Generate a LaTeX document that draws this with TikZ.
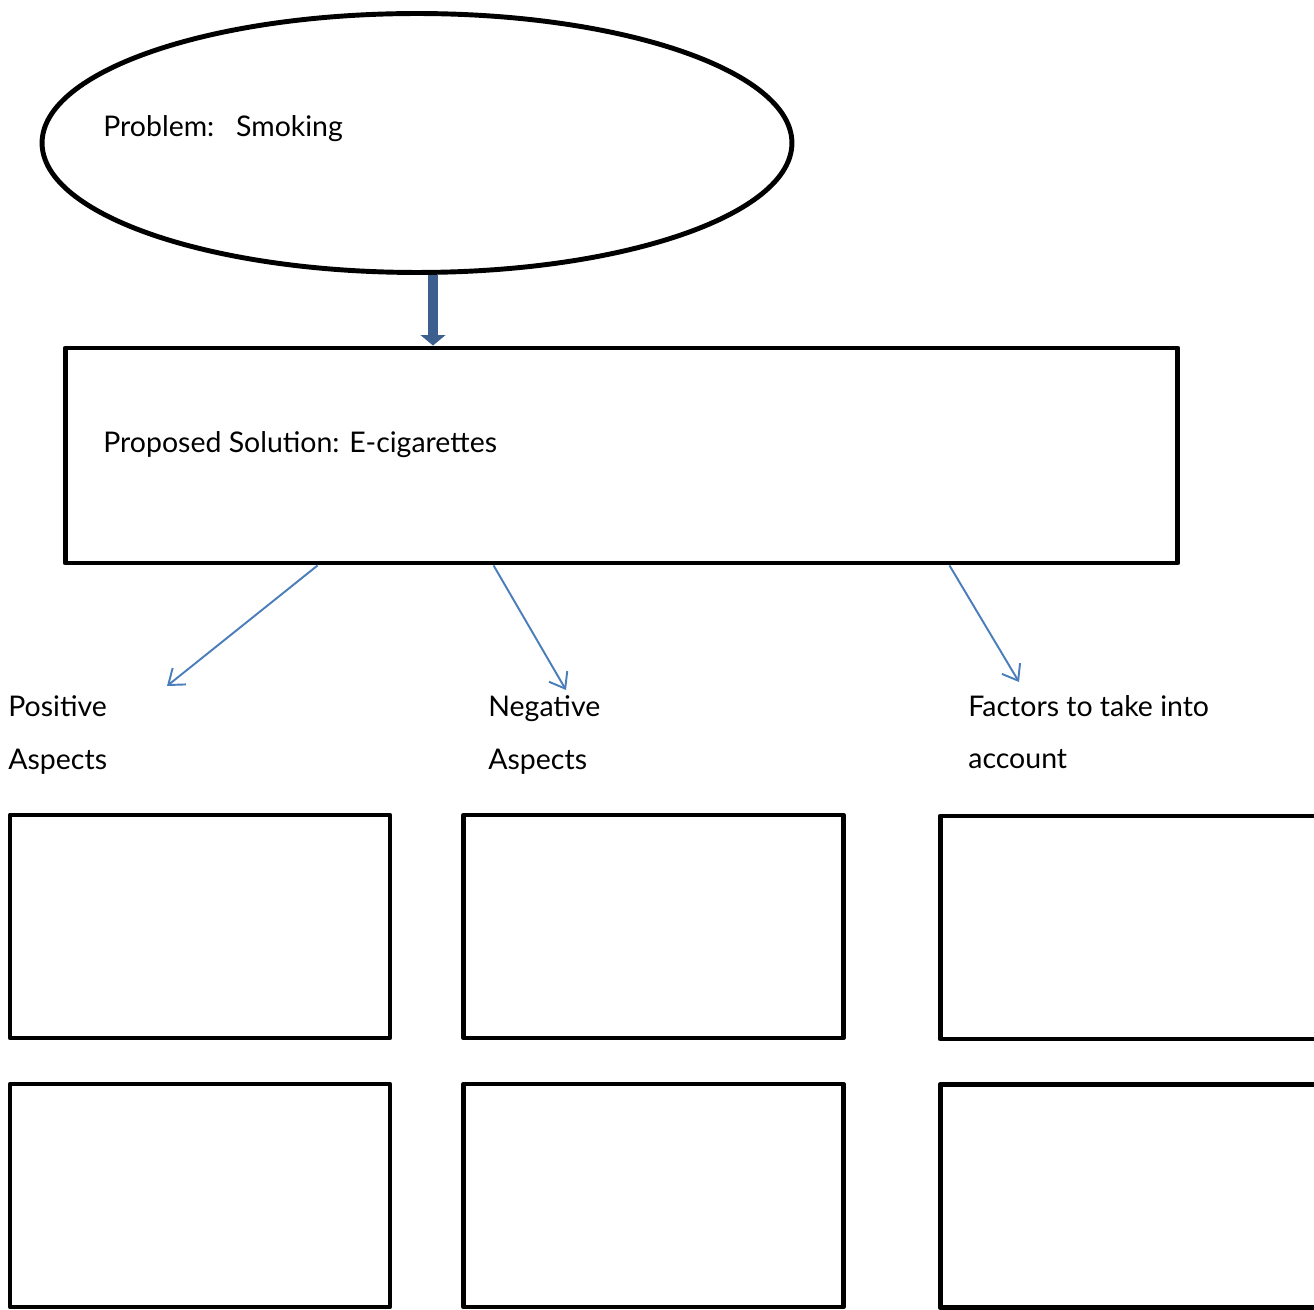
\documentclass[tikz,border=0pt]{standalone}
\usepackage{fontspec}
\setmainfont{Lato}
\usetikzlibrary{arrows.meta,positioning,shapes.geometric,calc}
\definecolor{thickblue}{HTML}{3C5F8F}
\definecolor{thinblue}{HTML}{4A7EBB}

\begin{document}
\begin{tikzpicture}[x=0.02cm,y=-0.02cm,
            oval/.style={draw,ellipse,line width=2.8pt,minimum width=15cm,minimum height=5.18cm},
            bigbox/.style={draw,rectangle,line width=2.8pt,line join=round,
                           minimum width=22.26cm,minimum height=4.3cm},
            cell/.style={draw,rectangle,line width=2.8pt,line join=round,
                         minimum width=7.6cm,minimum height=4.46cm},
            txt/.style={font=\fontsize{16.2}{30}\selectfont,align=left,inner sep=0pt},
            down/.style={-{Triangle[length=6pt,width=14pt]},line width=5.5pt,thickblue},
            line/.style={-{Straight Barb[length=8pt,width=12pt]},line width=1.1pt,thinblue}
        ]
        \clip (0,0) rectangle (1314,1310);
        \node[oval] (problem) at (417,143) {};
        \node[txt,anchor=west] (problemtxt) at (103,129) {Problem:\ \ \ Smoking};
        \node[bigbox] (solution) at (621.5,455.5) {};
        \node[txt,anchor=west] (solutiontxt) at (103,445) {Proposed Solution: E-cigarettes};
        % headings
        \node[txt,anchor=west] (positive) at (8,735) {Positive\\Aspects};
        \node[txt,anchor=west] (negative) at (488,735) {Negative\\Aspects};
        \node[txt,anchor=west] (factors) at (968,732) {Factors to take into\\account};
        % empty boxes
        \node[cell] (pos1) at (200,926.5) {};
        \node[cell] (neg1) at (653.5,926.5) {};
        \node[cell] (fac1) at (1130,927.5) {};
        \node[cell] (pos2) at (200,1195.5) {};
        \node[cell] (neg2) at (653.5,1195.5) {};
        \node[cell] (fac2) at (1130,1196) {};
        % arrows
        \draw[down] ([xshift=0.32cm]problem.south) -- ([xshift=0.32cm]problem.south |- solution.north);
        \coordinate (posend) at (167,686);
        \coordinate (negend) at (566,690);
        \coordinate (facend) at (1019,682);
        \draw[line] ([xshift=5.1cm]solution.south west) -- (posend);
        \draw[line] ([xshift=8.62cm]solution.south west) -- (negend);
        \draw[line] ([xshift=17.74cm]solution.south west) -- (facend);
        \end{tikzpicture}
\end{document}
